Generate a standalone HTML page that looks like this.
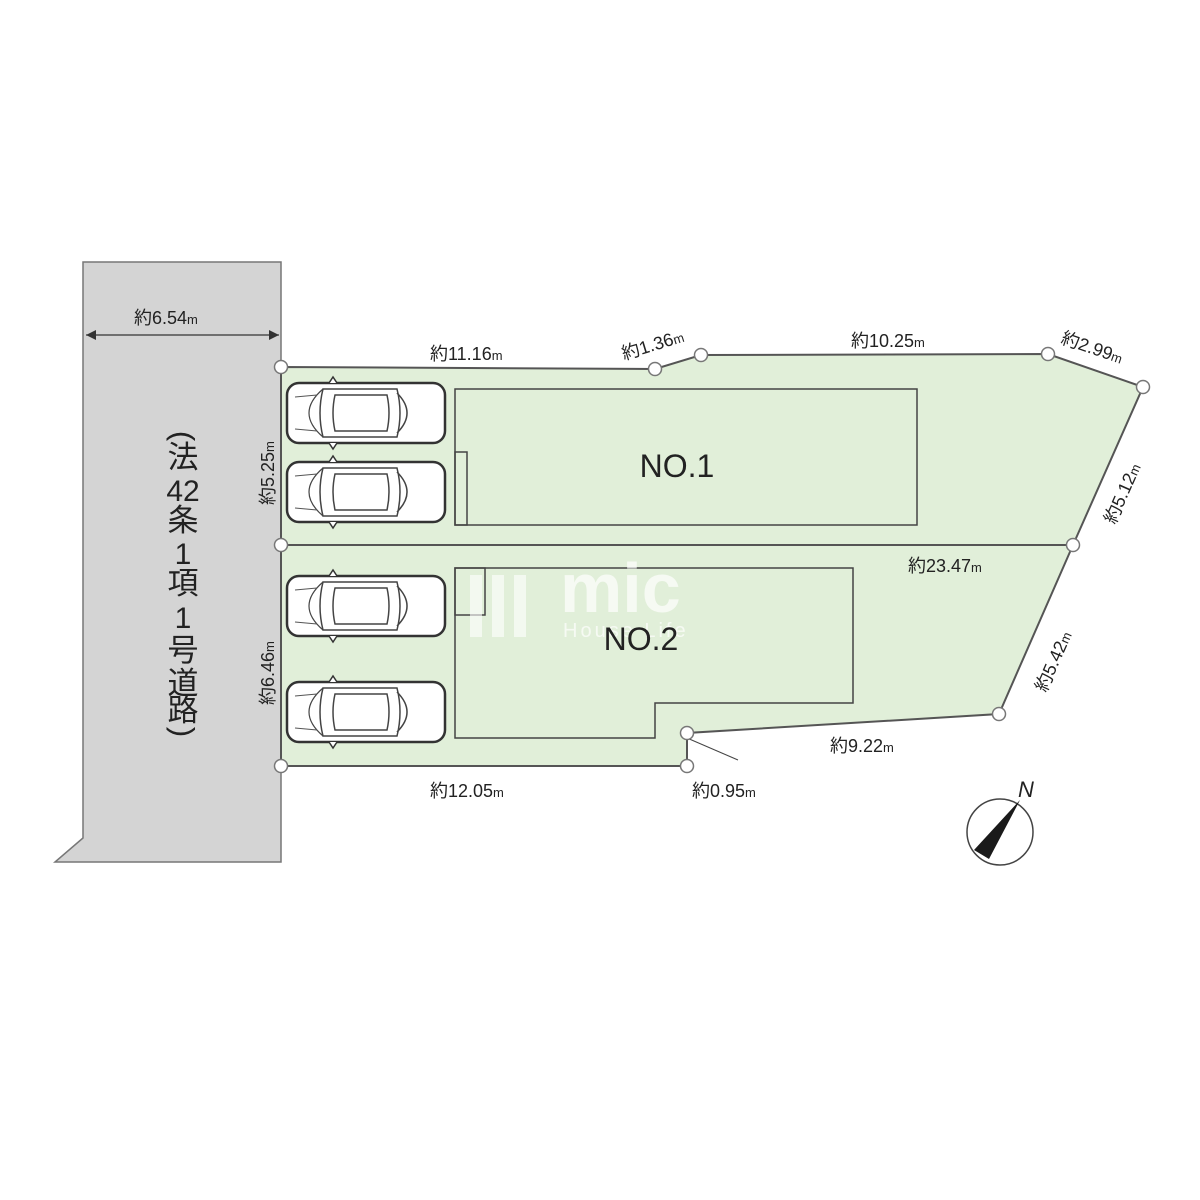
<!DOCTYPE html>
<html><head><meta charset="utf-8"><style>
html,body{margin:0;padding:0;background:#fff;}
svg{display:block;}
text{font-family:"Liberation Sans","Noto Sans CJK JP",sans-serif;fill:#222;}
</style></head><body>
<svg width="1200" height="1200" viewBox="0 0 1200 1200" xmlns="http://www.w3.org/2000/svg">
<defs>
<g id="car">
<rect x="0" y="0" width="158" height="60" rx="12" fill="#fff" stroke="#333" stroke-width="2.5"/>
<path d="M36 6 Q30 30 36 54 L110 54 Q116 30 110 6 Z" fill="#fff" stroke="#444" stroke-width="1.5"/>
<path d="M48 12 Q44 30 48 48 L100 48 Q104 30 100 12 Z" fill="#fff" stroke="#444" stroke-width="1.5"/>
<path d="M110 10 Q130 30 110 50" fill="none" stroke="#444" stroke-width="1.5"/>
<path d="M36 6 Q8 30 36 54" fill="none" stroke="#444" stroke-width="1.2"/>
<path d="M8 14 L30 12 M8 46 L30 48" stroke="#555" stroke-width="1"/>
<path d="M42 0 L46 -6 L50 0 M42 60 L46 66 L50 60" fill="#fff" stroke="#333" stroke-width="1.5"/>
</g>
</defs>
<polygon points="83,262 281,262 281,862 55,862 83,838" fill="#d4d4d4" stroke="#777" stroke-width="1.5"/>
<line x1="86" y1="335" x2="279" y2="335" stroke="#333" stroke-width="1.2"/>
<path d="M86 335 l10 -5 v10 z M279 335 l-10 -5 v10 z" fill="#333"/>
<text x="134" y="324" font-size="18">約6.54<tspan font-size="13">m</tspan></text>
<g font-size="31" text-anchor="middle">
<text x="183" y="446" transform="rotate(90 183 436)" font-family="Liberation Sans">(</text>
<text x="183" y="468">法</text>
<text x="183" y="501" font-size="30">42</text>
<text x="183" y="531">条</text>
<text x="183" y="564" font-size="30">1</text>
<text x="183" y="594">項</text>
<text x="183" y="628" font-size="30">1</text>
<text x="183" y="661">号</text>
<text x="183" y="694">道</text>
<text x="183" y="721">路</text>
<text x="183" y="742" transform="rotate(90 183 732)" font-family="Liberation Sans">)</text>
</g>
<polygon points="281,367 655,369 701,355 1048,354 1143,387 1073,545 999,714 687,733 687,766 281,766" fill="#e1efd9" stroke="#555" stroke-width="2"/>
<line x1="281" y1="545" x2="1073" y2="545" stroke="#555" stroke-width="2"/>
<rect x="455" y="389" width="462" height="136" fill="none" stroke="#444" stroke-width="1.5"/>
<rect x="455" y="452" width="12" height="73" fill="none" stroke="#444" stroke-width="1.5"/>
<polygon points="455,568 853,568 853,703 655,703 655,738 455,738" fill="none" stroke="#444" stroke-width="1.5"/>
<rect x="455" y="568" width="30" height="47" fill="none" stroke="#444" stroke-width="1.5"/>
<text x="560" y="612" font-size="70" font-weight="bold" style="fill:#fff;opacity:0.7">mic</text>
<text x="563" y="637" font-size="20" style="fill:#fff;opacity:0.7;letter-spacing:3px">House Life</text>
<rect x="470" y="575" width="12" height="62" fill="#fff" opacity="0.6"/>
<rect x="492" y="575" width="12" height="62" fill="#fff" opacity="0.6"/>
<rect x="514" y="575" width="12" height="62" fill="#fff" opacity="0.6"/>
<text x="677" y="477" font-size="32" text-anchor="middle">NO.1</text>
<text x="641" y="650" font-size="32" text-anchor="middle">NO.2</text>
<use href="#car" x="287" y="383"/>
<use href="#car" x="287" y="462"/>
<use href="#car" x="287" y="576"/>
<use href="#car" x="287" y="682"/>
<line x1="687" y1="738" x2="738" y2="760" stroke="#444" stroke-width="1"/>
<g fill="#fff" stroke="#777" stroke-width="1.5">
<circle cx="281" cy="367" r="6.5"/><circle cx="655" cy="369" r="6.5"/><circle cx="701" cy="355" r="6.5"/>
<circle cx="1048" cy="354" r="6.5"/><circle cx="1143" cy="387" r="6.5"/><circle cx="1073" cy="545" r="6.5"/>
<circle cx="281" cy="545" r="6.5"/><circle cx="999" cy="714" r="6.5"/><circle cx="687" cy="733" r="6.5"/>
<circle cx="687" cy="766" r="6.5"/><circle cx="281" cy="766" r="6.5"/>
</g>
<g font-size="18">
<text x="430" y="360">約11.16<tspan font-size="13">m</tspan></text>
<text x="624" y="360" transform="rotate(-17 624 360)">約1.36<tspan font-size="13">m</tspan></text>
<text x="851" y="347">約10.25<tspan font-size="13">m</tspan></text>
<text x="1060" y="343" transform="rotate(19 1060 343)">約2.99<tspan font-size="13">m</tspan></text>
<text x="1115" y="525" transform="rotate(-66 1115 525)">約5.12<tspan font-size="13">m</tspan></text>
<text x="908" y="572">約23.47<tspan font-size="13">m</tspan></text>
<text x="1046" y="693" transform="rotate(-66 1046 693)">約5.42<tspan font-size="13">m</tspan></text>
<text x="830" y="752">約9.22<tspan font-size="13">m</tspan></text>
<text x="430" y="797">約12.05<tspan font-size="13">m</tspan></text>
<text x="692" y="797">約0.95<tspan font-size="13">m</tspan></text>
<text x="274" y="505" transform="rotate(-90 274 505)">約5.25<tspan font-size="13">m</tspan></text>
<text x="274" y="705" transform="rotate(-90 274 705)">約6.46<tspan font-size="13">m</tspan></text>
</g>
<circle cx="1000" cy="832" r="33" fill="#fff" stroke="#444" stroke-width="1.5"/>
<polygon points="1020,800 974,850 989,859" fill="#1a1a1a"/>
<text x="1018" y="797" font-size="22" font-style="italic">N</text>
</svg>
</body></html>
